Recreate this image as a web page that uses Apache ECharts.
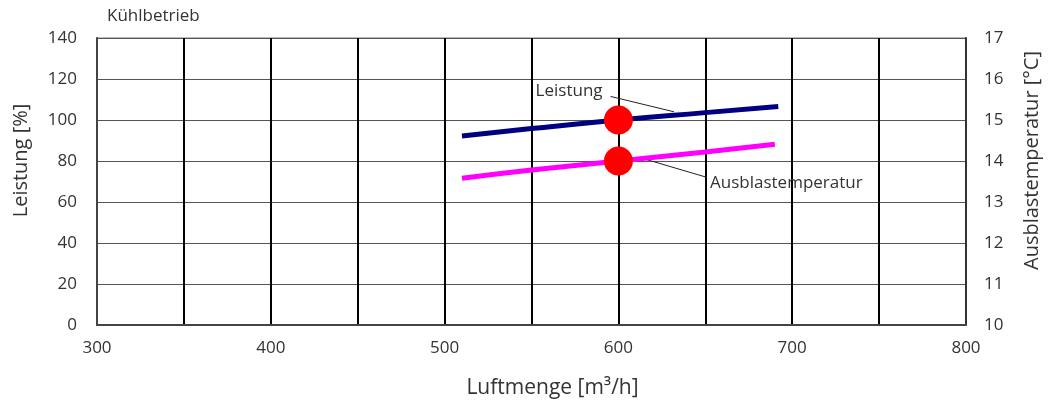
<!DOCTYPE html>
<html>
<head>
<meta charset="utf-8">
<script src="https://cdn.jsdelivr.net/npm/echarts@6/dist/echarts.min.js"></script>
<style>
  html, body { margin: 0; padding: 0; background: #fff; }
  #main { width: 1050px; height: 409px; }
</style>
</head>
<body>
<div id="main"></div>
<script>
// Werte
var luftmenge = [510, 550, 600, 650, 692];
var leistung = [92.2, 95.8, 100, 103.6, 106.6];
var ausblasLuft = [510, 550, 600, 650, 690];
var ausblasTemp = [13.58, 13.78, 14.0, 14.22, 14.41];
var betriebspunkte = [[600, 100], [600, 80]];
var xTicks = [300, 400, 500, 600, 700, 800];

var font = 'Open Sans';
var myChart = echarts.init(document.getElementById('main'));

function pairs(xs, ys) {
  return xs.map(function (x, i) { return [x, ys[i]]; });
}

var hinweisLabel = { fontSize: 17, color: '#333', fontFamily: font };

var option = {
  animation: false,
  textStyle: { fontFamily: font },
  graphic: [{
    type: 'text', left: 107, top: 8,
    style: { text: 'Kühlbetrieb', fontSize: 17, fontFamily: font, fill: '#333' }
  }],
  grid: {
    left: 97, right: 84, top: 38, bottom: 84,
    outerBoundsMode: 'none', containLabel: false,
    show: true, borderColor: '#777', borderWidth: 1
  },
  xAxis: {
    type: 'value', min: 300, max: 800, interval: 50,
    name: 'Luftmenge [m³/h]', nameLocation: 'middle', nameGap: 53,
    nameTextStyle: { fontSize: 21, color: '#333', fontFamily: font, padding: [0, 0, 0, 42] },
    axisLine: { lineStyle: { color: '#444', width: 2 } },
    axisTick: { show: false },
    splitLine: { lineStyle: { color: '#000', width: 2 } },
    axisLabel: {
      margin: 15, fontSize: 17, color: '#333', fontFamily: font,
      formatter: function (v) { return xTicks.indexOf(v) >= 0 ? String(v) : ''; }
    }
  },
  yAxis: [{
    type: 'value', min: 0, max: 140, interval: 20,
    name: 'Leistung [%]', nameLocation: 'middle', nameGap: 66, nameRotate: 90,
    nameTextStyle: { fontSize: 20, color: '#333', fontFamily: font, padding: [0, 0, 0, 42] },
    axisLine: { show: true, lineStyle: { color: '#444', width: 2 } },
    axisTick: { show: false },
    splitLine: { lineStyle: { color: '#555', width: 1 } },
    axisLabel: { margin: 20, fontSize: 17, color: '#333', fontFamily: font }
  }, {
    type: 'value', min: 10, max: 17, interval: 1, position: 'right',
    name: 'Ausblastemperatur [°C]', nameLocation: 'middle', nameGap: 56, nameRotate: 90,
    nameTextStyle: { fontSize: 20, color: '#333', fontFamily: font, padding: [0, 0, 0, 42] },
    axisLine: { show: true, lineStyle: { color: '#333', width: 2 } },
    axisTick: { show: false },
    splitLine: { show: false },
    axisLabel: { margin: 18, fontSize: 17, color: '#333', fontFamily: font }
  }],
  series: [{
    name: 'Leistung', type: 'line', smooth: true, symbol: 'none',
    lineStyle: { color: '#000080', width: 5 },
    data: pairs(luftmenge, leistung), z: 3
  }, {
    name: 'Ausblastemperatur', type: 'line', smooth: true, symbol: 'none', yAxisIndex: 1,
    lineStyle: { color: '#ff00ff', width: 5 },
    data: pairs(ausblasLuft, ausblasTemp), z: 3
  }, {
    name: 'Leistung Hinweis', type: 'line', symbol: 'circle', symbolSize: 0, showSymbol: true, silent: true,
    lineStyle: { color: '#222', width: 1 },
    data: [
      { value: [595.5, 111.5], label: Object.assign({ show: true, position: 'left', distance: 3, formatter: 'Leistung', offset: [-5, -5] }, hinweisLabel) },
      [632, 104]
    ], z: 2
  }, {
    name: 'Temp Hinweis', type: 'line', symbol: 'circle', symbolSize: 0, showSymbol: true, silent: true,
    lineStyle: { color: '#222', width: 1 },
    data: [
      [613, 81.5],
      { value: [651, 72], label: Object.assign({ show: true, position: 'right', distance: 3, formatter: 'Ausblastemperatur', offset: [0, 6] }, hinweisLabel) }
    ], z: 2
  }, {
    name: 'Betriebspunkt', type: 'scatter', symbolSize: 29,
    itemStyle: { color: '#ff0000', opacity: 1 },
    data: betriebspunkte, z: 5
  }]
};

myChart.setOption(option);
</script>
</body>
</html>
